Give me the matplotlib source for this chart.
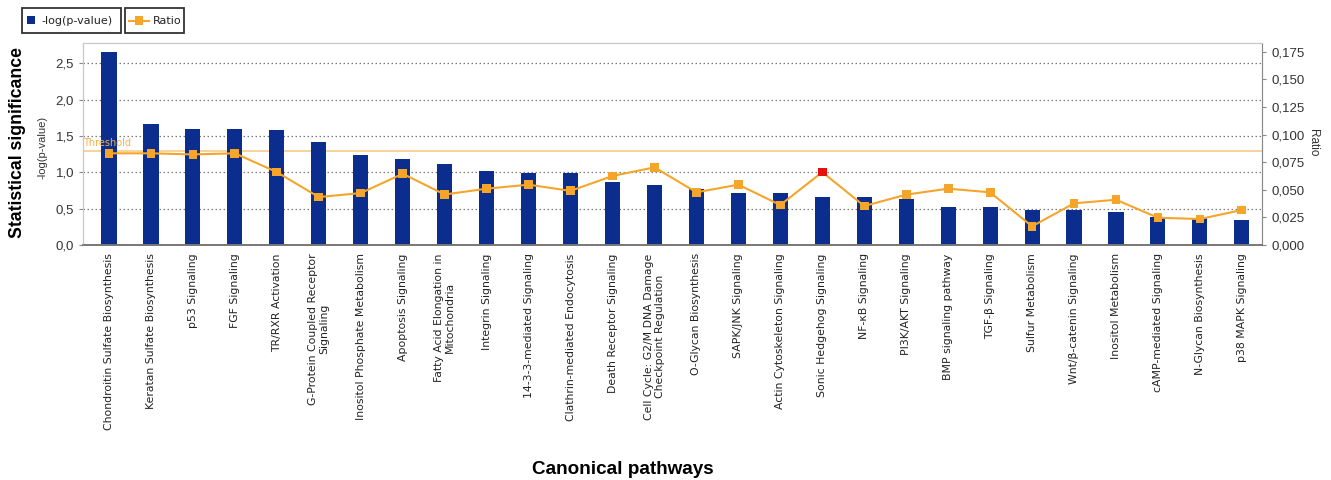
import matplotlib
matplotlib.use("Agg")
import matplotlib.pyplot as plt
from matplotlib.ticker import FuncFormatter
from matplotlib.lines import Line2D
from matplotlib.patches import Rectangle

pathways = [
    "Chondroitin Sulfate Biosynthesis", "Keratan Sulfate Biosynthesis", "p53 Signaling",
    "FGF Signaling", "TR/RXR Activation", "G-Protein Coupled Receptor\nSignaling",
    "Inositol Phosphate Metabolism", "Apoptosis Signaling",
    "Fatty Acid Elongation in\nMitochondria", "Integrin Signaling",
    "14-3-3-mediated Signaling", "Clathrin-mediated Endocytosis",
    "Death Receptor Signaling", "Cell Cycle: G2/M DNA Damage\nCheckpoint Regulation",
    "O-Glycan Biosynthesis", "SAPK/JNK Signaling", "Actin Cytoskeleton Signaling",
    "Sonic Hedgehog Signaling", "NF-κB Signaling", "PI3K/AKT Signaling",
    "BMP signaling pathway", "TGF-β Signaling", "Sulfur Metabolism",
    "Wnt/β-catenin Signaling", "Inositol Metabolism", "cAMP-mediated Signaling",
    "N-Glycan Biosynthesis", "p38 MAPK Signaling",
]
neg_log_p = [2.65, 1.67, 1.59, 1.59, 1.58, 1.42, 1.24, 1.19, 1.115, 1.02,
             0.99, 0.99, 0.87, 0.83, 0.77, 0.72, 0.71, 0.665, 0.655, 0.634,
             0.528, 0.52, 0.486, 0.48, 0.455, 0.39, 0.37, 0.344]
ratio = [0.083, 0.083, 0.082, 0.083, 0.066, 0.0434, 0.047, 0.0645, 0.0457, 0.051,
         0.0546, 0.049, 0.0625, 0.0703, 0.0477, 0.0546, 0.0362, 0.066, 0.0353, 0.0456,
         0.051, 0.0477, 0.0169, 0.0377, 0.041, 0.0247, 0.0235, 0.0317]
highlight = "Sonic Hedgehog Signaling"
threshold = 1.3
left_ticks = [0.0, 0.5, 1.0, 1.5, 2.0, 2.5]
right_ticks = [0.000, 0.025, 0.050, 0.075, 0.100, 0.125, 0.150, 0.175]

BLUE = "#0a2d8e"
ORANGE = "#f5a52a"
RED = "#e8100a"
W, H = 1331, 480

plt.rcParams['font.family'] = ['DejaVu Sans']
fig = plt.figure(figsize=(W/100, H/100), dpi=100)
ax = fig.add_axes([83/W, 1-245/H, (1262-83)/W, (245-43)/H])
ax2 = ax.twinx()

x = list(range(len(pathways)))
ax.bar(x, neg_log_p, width=0.36, color=BLUE, zorder=2)
ax.set_xlim(-0.62, len(pathways) - 1 + 0.48)
ax.set_ylim(0, 2.78)
ax.set_yticks(left_ticks)
ax.yaxis.set_major_formatter(FuncFormatter(lambda v, p: f"{v:.1f}".replace(".", ",")))
ax.grid(axis='y', linestyle=(0, (1.2, 2)), color='#7a7a7a', linewidth=0.9, zorder=0)
ax.set_axisbelow(True)
ax.set_xticks(x)
ax.set_xticklabels(pathways, rotation=90, fontsize=7.8, ha='center', va='top',
                   multialignment='center', color='#222222', linespacing=1.15)
ax.tick_params(axis='x', length=0, pad=6)
ax.tick_params(axis='y', length=3, color='#888888', labelcolor='#333333')
for lab in ax.get_yticklabels():
    lab.set_fontfamily('Liberation Sans')
    lab.set_fontsize(9.5)

ax.axhline(threshold, color='#f8cf90', linewidth=1.3, zorder=1)
ax.text(-0.62, threshold + 0.03, "Threshold", color='#f5b04a', fontsize=7, ha='left', va='bottom')

ax2.set_ylim(0, (245-43)/1104.6)
ax2.set_yticks(right_ticks)
ax2.yaxis.set_major_formatter(FuncFormatter(lambda v, p: f"{v:.3f}".replace(".", ",")))
ax2.tick_params(axis='y', length=3, color='#888888', labelcolor='#333333')
for lab in ax2.get_yticklabels():
    lab.set_fontfamily('Liberation Sans')
    lab.set_fontsize(9.5)
ax2.plot(x, ratio, color=ORANGE, linewidth=1.5, zorder=3)
cols = [RED if p == highlight else ORANGE for p in pathways]
ax2.scatter(x, ratio, marker='s', s=40, c=cols, zorder=4, linewidths=0)

for a in (ax, ax2):
    for s in ('top', 'left', 'right'):
        a.spines[s].set_color('#c8c8c8')
    a.spines['bottom'].set_color('#777777')
    a.spines['bottom'].set_linewidth(1.2)
ax2.spines['right'].set_color('#888888')

fig.text(1313/W, 1-143/H, "Ratio", rotation=-90, fontsize=8.5, ha='center', va='center',
         color='#333333', family='Liberation Sans')
fig.text(42/W, 1-147/H, "-log(p-value)", rotation=90, fontsize=8, ha='center', va='center',
         color='#333333', family='Liberation Sans')
fig.text(18/W, 1-142/H, "Statistical significance", rotation=90, fontsize=12.7,
         fontweight='bold', ha='center', va='center', family='Liberation Sans')
fig.text(623/W, 1-470/H, "Canonical pathways", fontsize=13.6, fontweight='bold',
         ha='center', va='center', family='Liberation Sans')

# legend boxes (pixel coordinates converted to figure fractions)
def px_rect(x0, y0, x1, y1, **kw):
    r = Rectangle((x0/W, 1-y1/H), (x1-x0)/W, (y1-y0)/H, transform=fig.transFigure, **kw)
    fig.add_artist(r)

px_rect(22, 8, 121, 33, fill=False, edgecolor='#333333', linewidth=1.3)
px_rect(125, 8, 184, 33, fill=False, edgecolor='#333333', linewidth=1.3)
px_rect(27, 16, 35, 24, facecolor=BLUE, edgecolor='none')
fig.text(41/W, 1-20.5/H, "-log(p-value)", fontsize=8.0, va='center', ha='left', color='#222222')
fig.add_artist(Line2D([129/W, 149/W], [1-20.5/H, 1-20.5/H], color=ORANGE, linewidth=1.5,
                      transform=fig.transFigure))
px_rect(135, 16.5, 143, 24.5, facecolor=ORANGE, edgecolor='none')
fig.text(153/W, 1-20.5/H, "Ratio", fontsize=8.0, va='center', ha='left', color='#222222')

fig.savefig("out.png", dpi=100)
